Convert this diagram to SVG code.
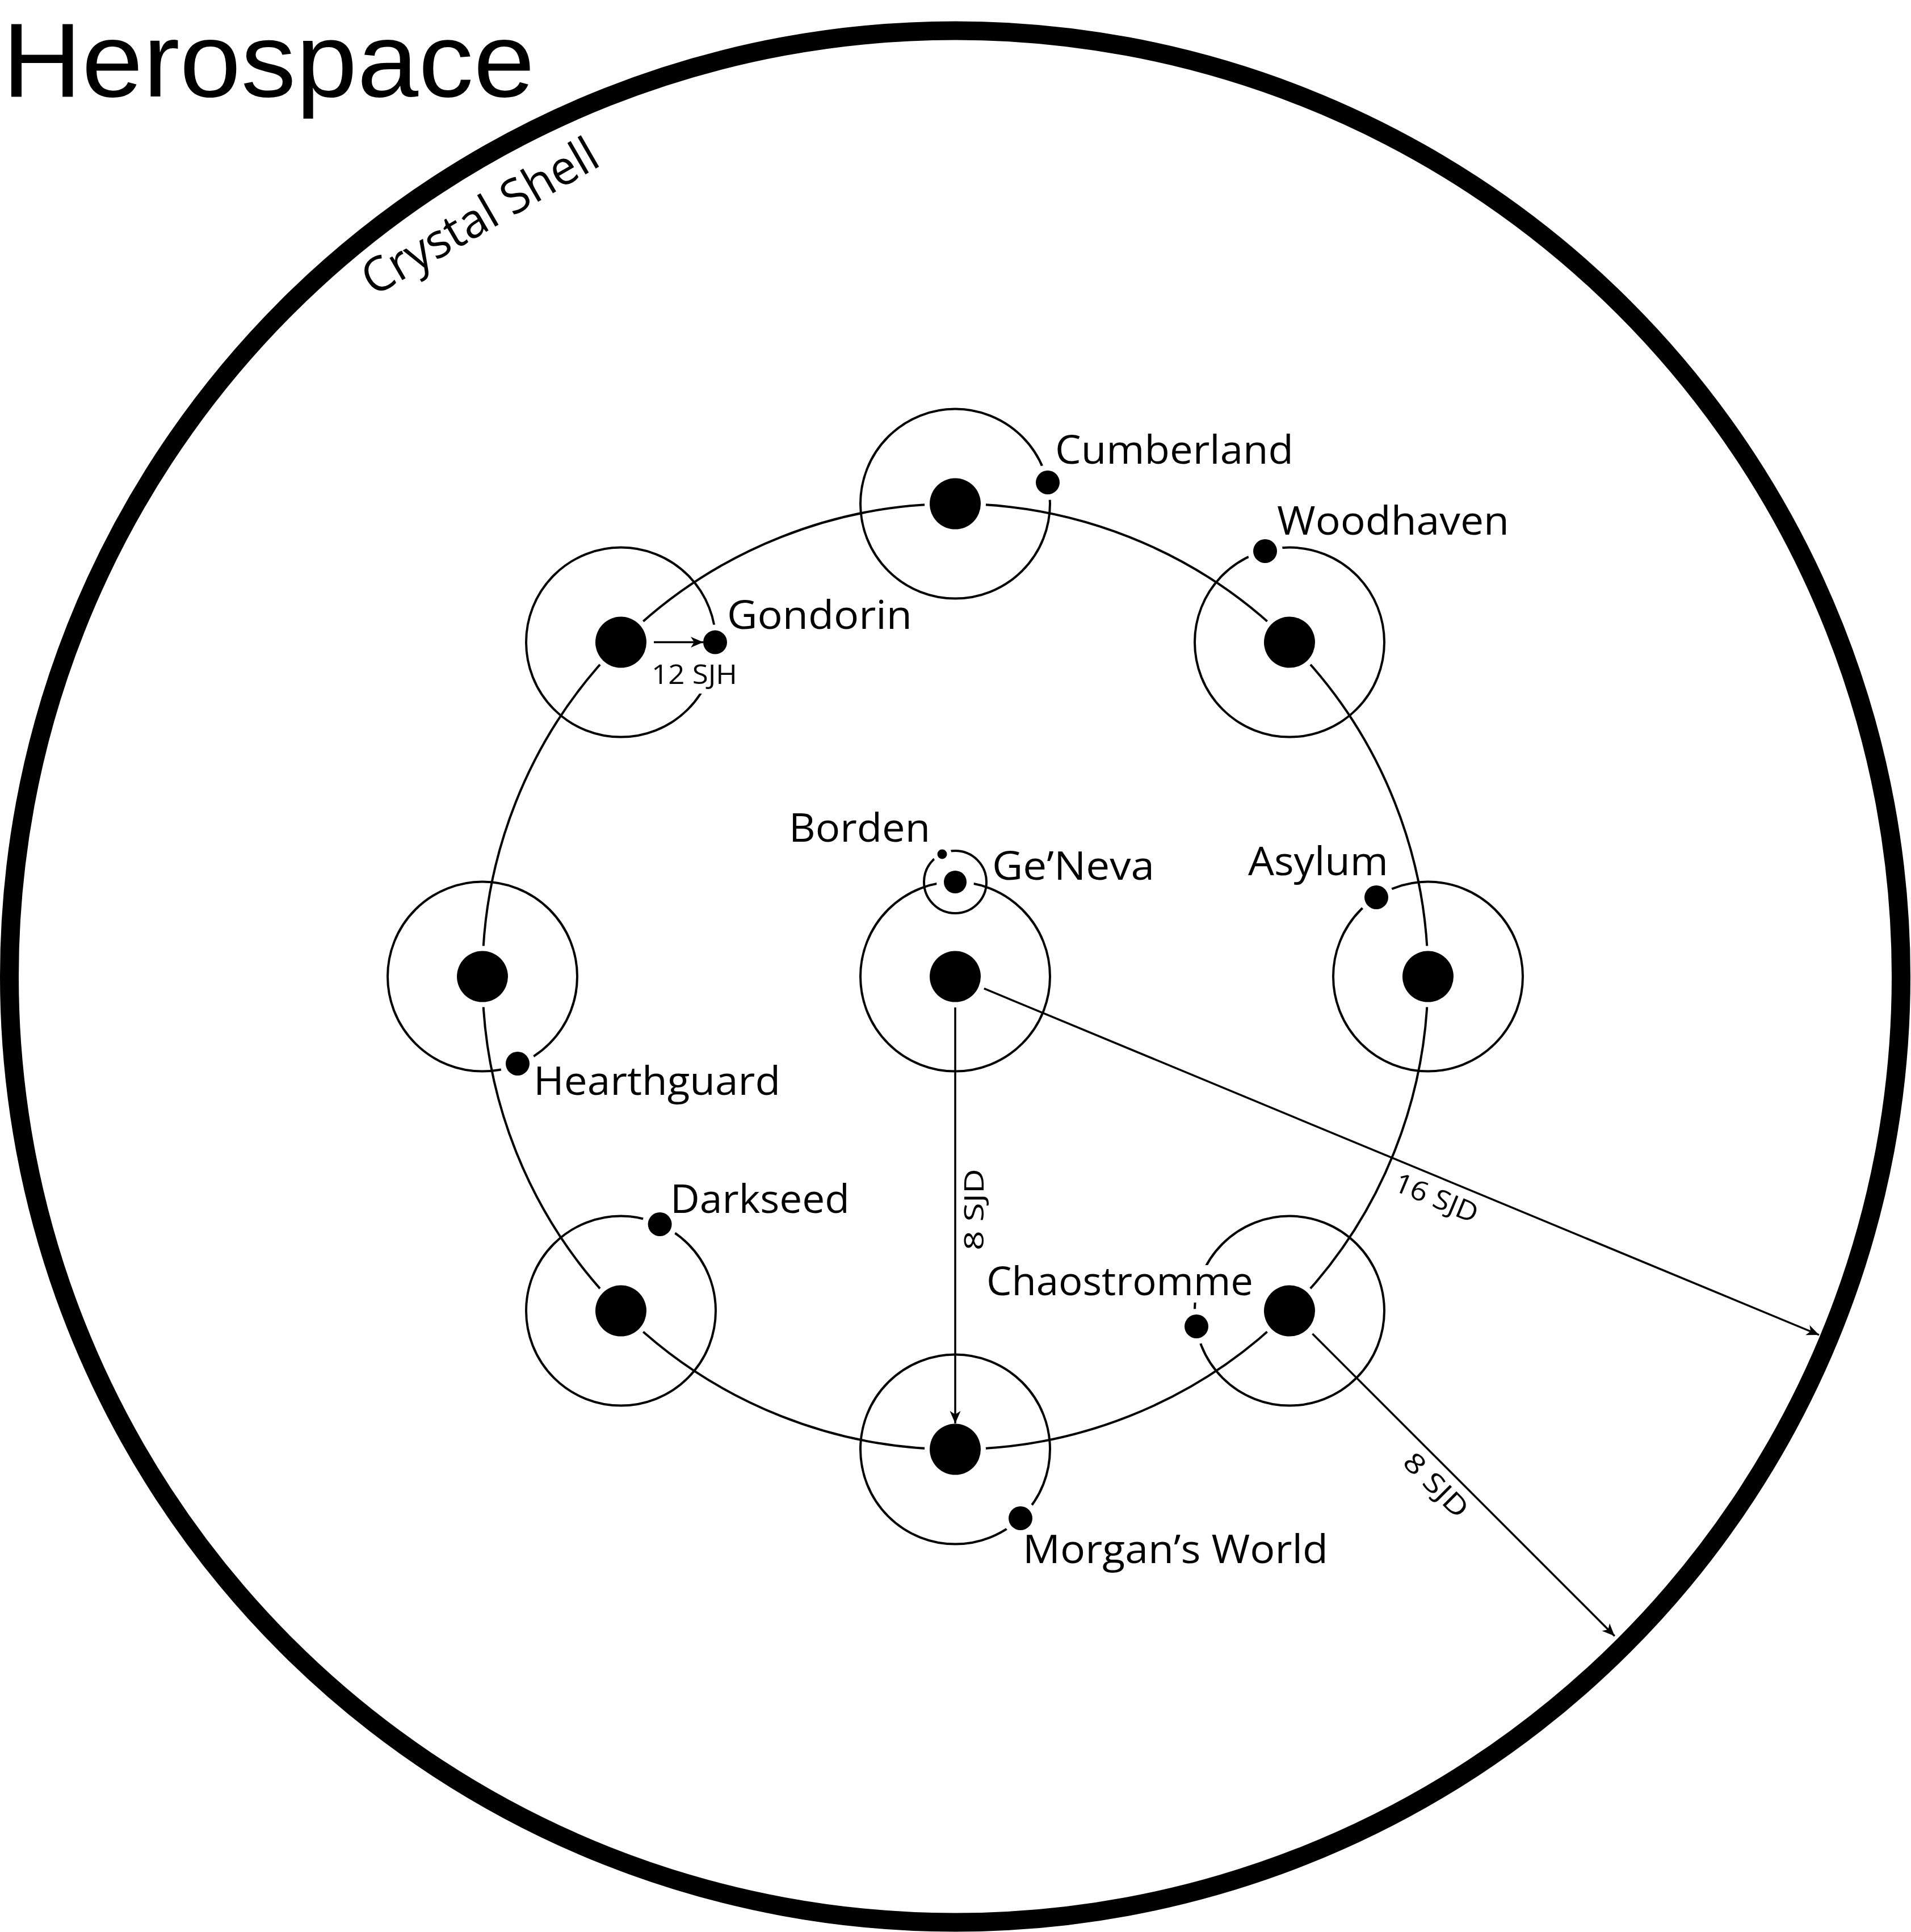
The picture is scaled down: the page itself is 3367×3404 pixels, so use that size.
<svg xmlns="http://www.w3.org/2000/svg" width="3367" height="3404" viewBox="0 0 3367 3404">
<defs>
<style>
.orb{fill:none;stroke:#000;stroke-width:4}
.sun{fill:#000;stroke:#fff;stroke-width:18;paint-order:stroke}
.pl{fill:#000;stroke:#fff;stroke-width:20;paint-order:stroke}
.t{font-family:"Open Sans","Noto Sans","DejaVu Sans",sans-serif;font-size:70px;fill:#000}
.s{font-size:48px}
.c{fill:none;stroke:#000;stroke-width:3.5;marker-end:url(#ah)}
.ko{fill:#fff}
</style>
<marker id="ah" markerUnits="userSpaceOnUse" viewBox="-24 -12 26 24" markerWidth="26" markerHeight="24" refX="0" refY="0" orient="auto">
<path d="M0,0 L-22,-9.5 L-16,0 L-22,9.5 Z" fill="#000"/>
</marker>
</defs>
<rect width="3367" height="3404" fill="#fff"/>
<text id="title" x="4" y="170" style="font-family:'Liberation Sans','Open Sans',sans-serif;font-size:186px;fill:#000" textLength="938" lengthAdjust="spacingAndGlyphs">Herospace</text>
<g id="crystal-shell">
<circle cx="1683" cy="1720.5" r="1666.5" fill="none" stroke="#000" stroke-width="33"/>
<text class="t" x="658" y="523" style="font-size:84px" transform="rotate(-30 658 523)" textLength="466" lengthAdjust="spacingAndGlyphs">Crystal Shell</text>
</g>
<g id="ring">
<circle class="orb" cx="1683" cy="1720.6" r="833"/>
</g>
<g id="center-star">
<circle class="orb" cx="1683" cy="1720.6" r="167"/>
<circle class="sun" cx="1683" cy="1720.6" r="45"/>
</g>
<g id="geneva">
<circle class="orb" cx="1683" cy="1554" r="55"/>
<circle class="sun" cx="1683" cy="1554" r="20" style="stroke-width:26"/>
<text class="t" x="1748" y="1550" textLength="286" lengthAdjust="spacingAndGlyphs">Ge’Neva</text>
</g>
<g id="borden">
<circle class="pl" cx="1660" cy="1505" r="8.5" style="stroke-width:16"/>
<text class="t" x="1390" y="1483" textLength="249" lengthAdjust="spacingAndGlyphs">Borden</text>
</g>
<g id="cumberland">
<circle class="orb" cx="1683" cy="887.6" r="167"/>
<circle class="sun" cx="1683" cy="887.6" r="45"/>
<circle class="pl" cx="1846" cy="850" r="21"/>
<text class="t" x="1859" y="817" textLength="420" lengthAdjust="spacingAndGlyphs">Cumberland</text>
</g>
<g id="woodhaven">
<circle class="orb" cx="2272" cy="1131.6" r="167"/>
<circle class="sun" cx="2272" cy="1131.6" r="45"/>
<circle class="pl" cx="2229" cy="971" r="21"/>
<text class="t" x="2250" y="942" textLength="409" lengthAdjust="spacingAndGlyphs">Woodhaven</text>
</g>
<g id="asylum">
<circle class="orb" cx="2516" cy="1720.6" r="167"/>
<circle class="sun" cx="2516" cy="1720.6" r="45"/>
<circle class="pl" cx="2425" cy="1581" r="21"/>
<text class="t" x="2199" y="1542" textLength="247" lengthAdjust="spacingAndGlyphs">Asylum</text>
</g>
<g id="chaostromme">
<circle class="orb" cx="2272" cy="2309.6" r="167"/>
<rect class="ko" x="1732" y="2229" width="480" height="66"/>
<circle class="sun" cx="2272" cy="2309.6" r="45"/>
<circle class="pl" cx="2108" cy="2337" r="21"/>
<text class="t" x="1738" y="2282" textLength="470" lengthAdjust="spacingAndGlyphs">Chaostromme</text>
</g>
<g id="morgans-world">
<circle class="orb" cx="1683" cy="2553.6" r="167"/>
<circle class="sun" cx="1683" cy="2553.6" r="45"/>
<circle class="pl" cx="1798" cy="2675" r="21"/>
<text class="t" x="1802" y="2754" textLength="538" lengthAdjust="spacingAndGlyphs">Morgan’s World</text>
</g>
<g id="darkseed">
<circle class="orb" cx="1094" cy="2309.6" r="167"/>
<circle class="sun" cx="1094" cy="2309.6" r="45"/>
<circle class="pl" cx="1162.6" cy="2157" r="21"/>
<text class="t" x="1181" y="2137" textLength="316" lengthAdjust="spacingAndGlyphs">Darkseed</text>
</g>
<g id="hearthguard">
<circle class="orb" cx="850" cy="1720.6" r="167"/>
<circle class="sun" cx="850" cy="1720.6" r="45"/>
<circle class="pl" cx="912" cy="1874" r="21"/>
<text class="t" x="940" y="1929" textLength="435" lengthAdjust="spacingAndGlyphs">Hearthguard</text>
</g>
<g id="gondorin">
<circle class="orb" cx="1094" cy="1131.6" r="167"/>
<rect class="ko" x="1145" y="1160" width="160" height="62"/>
<circle class="sun" cx="1094" cy="1131.6" r="45"/>
<circle class="pl" cx="1260" cy="1131.6" r="21"/>
<text class="t" x="1281" y="1108" textLength="326" lengthAdjust="spacingAndGlyphs">Gondorin</text>
</g>
<g id="connectors">
<line class="c" x1="1152" y1="1131.6" x2="1239" y2="1131.6"/>
<text class="t s" x="1148" y="1205" textLength="151" lengthAdjust="spacingAndGlyphs">12 SJH</text>
<line class="c" x1="1683" y1="1775" x2="1683" y2="2508"/>
<text class="t s" x="1733" y="2203" transform="rotate(-90 1733 2203)" textLength="144" lengthAdjust="spacingAndGlyphs">8 SJD</text>
<line class="c" x1="1733.8" y1="1741.7" x2="3205" y2="2352"/>
<text class="t s" x="2452.8" y="2096.3" transform="rotate(22.54 2452.8 2096.3)" textLength="155" lengthAdjust="spacingAndGlyphs">16 SJD</text>
<line class="c" x1="2312.5" y1="2350.1" x2="2844.8" y2="2882.4"/>
<text class="t s" x="2468.9" y="2579" transform="rotate(45 2468.9 2579)" textLength="140" lengthAdjust="spacingAndGlyphs">8 SJD</text>
</g>
</svg>
